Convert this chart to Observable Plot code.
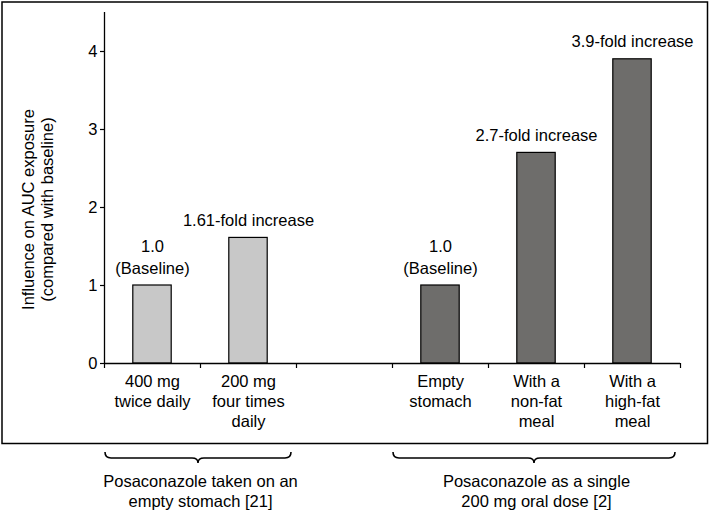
<!DOCTYPE html>
<html>
<head>
<meta charset="utf-8">
<script src="https://cdn.jsdelivr.net/npm/d3@7"></script>
<script src="https://cdn.jsdelivr.net/npm/@observablehq/plot@0.6"></script>
<style>
  body { margin: 0; background: #fff; }
  svg { display: block; }
</style>
</head>
<body>
<div id="chart"></div>
<script>
// ---- data ----
const categories = ["400 mg\ntwice daily", "200 mg\nfour times\ndaily", "", "Empty\nstomach", "With a\nnon-fat\nmeal", "With a\nhigh-fat\nmeal"];
const values = [1.0, 1.61, null, 1.0, 2.7, 3.9];
const groupOf = ["empty", "empty", null, "single", "single", "single"];
const barLabels = ["1.0\n(Baseline)", "1.61-fold increase", "", "1.0\n(Baseline)", "2.7-fold increase", "3.9-fold increase"];
const yTicks = [0, 1, 2, 3, 4];
const yLabel = "Influence on AUC exposure\n(compared with baseline)";
const groupKeys = ["empty", "single"];
const groupLabels = ["Posaconazole taken on an\nempty stomach [21]", "Posaconazole as a single\n200 mg oral dose [2]"];
const groupStart = [0, 3];
const groupEnd = [2, 6];
const groupColors = ["#c8c8c8", "#6e6d6b"];

// ---- tables built from the arrays ----
const rows = categories.map((c, i) => ({i, category: c, value: values[i], group: groupOf[i], label: barLabels[i]}));
const bars = rows.filter(d => d.value != null);
const groups = groupKeys.map((k, j) => ({key: k, label: groupLabels[j], start: groupStart[j], end: groupEnd[j]}));

function braces(index, scales, values, dimensions) {
  const x = scales.x;
  const base = dimensions.height - dimensions.marginBottom;
  const yTop = base + 89, yMid = base + 95, yTip = base + 100, r = 6;
  const g = d3.create("svg:g")
    .attr("fill", "none")
    .attr("stroke", "#000")
    .attr("stroke-width", 1.6);
  for (const d of groups) {
    const x0 = x(d.start) + 1, x1 = x(d.end) - 5, xc = (x0 + x1) / 2;
    const p = `M${x0},${yTop} Q${x0},${yMid} ${x0 + r},${yMid} L${xc - r},${yMid} Q${xc},${yMid} ${xc},${yTip} Q${xc},${yMid} ${xc + r},${yMid} L${x1 - r},${yMid} Q${x1},${yMid} ${x1},${yTop}`;
    g.append("path").attr("d", p);
  }
  return g.node();
}

const plot = Plot.plot({
  width: 709,
  height: 511,
  marginLeft: 104,
  marginRight: 29,
  marginTop: 12,
  marginBottom: 148,
  style: {fontFamily: "'Liberation Sans', Arial, Helvetica, sans-serif", fontSize: "16.5px", background: "#fff", color: "#000"},
  x: {type: "linear", domain: [0, categories.length], label: null},
  y: {domain: [0, 4.5], label: null},
  color: {domain: groupKeys, range: groupColors},
  marks: [
    Plot.frame({stroke: "#000", strokeWidth: 1.5, insetLeft: -102.5, insetRight: -27, insetTop: -10.5, insetBottom: -80}),
    Plot.rect(bars, {x1: d => d.i + 0.3, x2: d => d.i + 0.7, y1: 0, y2: "value", fill: "group", stroke: "#000", strokeWidth: 1.2}),
    Plot.ruleX([0], {stroke: "#000", strokeWidth: 1.3}),
    Plot.ruleY([0], {stroke: "#000", strokeWidth: 1.3}),
    Plot.axisY({ticks: yTicks, tickSize: 4, tickPadding: 3, label: null, tickFormat: d3.format("d"), strokeWidth: 1.2}),
    Plot.axisX({ticks: d3.range(categories.length + 1), tickSize: 5, tickFormat: () => "", label: null, strokeWidth: 1.2}),
    Plot.text(rows, {x: d => d.i + 0.5, frameAnchor: "bottom", lineAnchor: "top", dy: 9, text: "category", lineHeight: 1.22}),
    Plot.text(bars, {x: d => d.i + 0.5, y: "value", text: "label", lineAnchor: "bottom", dy: -12, lineHeight: 1.32}),
    Plot.text([yLabel], {frameAnchor: "left", textAnchor: "middle", rotate: -90, text: d => d, dx: -67, dy: 21.5, lineHeight: 1.15}),
    braces,
    Plot.text(groups, {x: d => (d.start + d.end) / 2, frameAnchor: "bottom", lineAnchor: "top", dy: 109.5, text: "label", lineHeight: 1.22})
  ]
});
document.getElementById("chart").append(plot);
</script>
</body>
</html>
